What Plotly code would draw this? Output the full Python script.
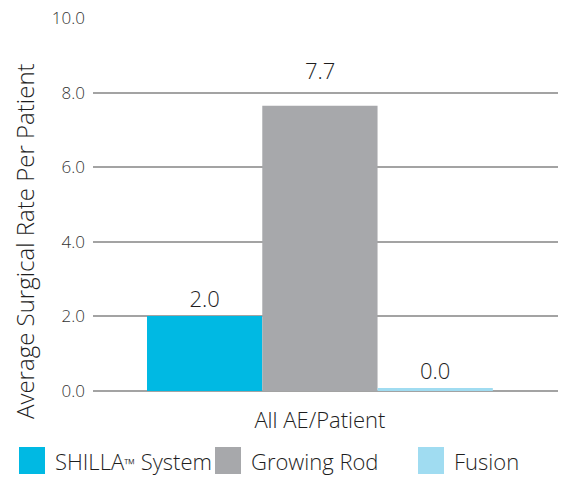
import plotly.graph_objects as go

categories = ["All AE/Patient"]
series_names = ["SHILLA<span style='font-size:15px'>™</span> System", "Growing Rod", "Fusion"]
series_values = [2.01, 7.65, 0.08]
value_labels = ["2.0", "7.7", "0.0"]
colors = ["#00B9E3", "#A7A8AB", "#A0DCF1"]
y_ticks = [0, 2, 4, 6, 8, 10]
y_ticklabels = ["0.0", "2.0", "4.0", "6.0", "8.0", "10.0"]
y_title = "Average Surgical Rate Per Patient"

W, H = 565, 477
L, R, T, B = 93, 7, 18, 86
pw, ph = W - L - R, H - T - B

FONT = "Open Sans"
TXT = "#1e1e1e"

fig = go.Figure()
for i, (name, v, lab, c) in enumerate(zip(series_names, series_values, value_labels, colors)):
    middle = (i == 1)
    fig.add_trace(go.Bar(
        x=categories, y=[v], name=name, marker_color=c, marker_line_width=0,
        text=[lab], textposition="none" if middle else "outside", cliponaxis=False,
        textfont=dict(size=22, color=TXT, family=FONT, weight=300),
        showlegend=False,
    ))

def px2x(px):
    return (px - L) / pw

def px2y(py):
    return (H - B - py) / ph

shapes = []
annotations = []
# label of the middle bar sits above the 8.0 gridline
annotations.append(dict(text=value_labels[1], x=categories[0], y=series_values[1],
                        xref="x", yref="y", xanchor="center", yanchor="bottom",
                        yshift=19, showarrow=False,
                        font=dict(size=22, color=TXT, family=FONT, weight=300)))

legend_x = [19, 215, 418]
for i, (name, c) in enumerate(zip(series_names, colors)):
    x0 = legend_x[i]
    shapes.append(dict(type="rect", xref="paper", yref="paper",
                       x0=px2x(x0), x1=px2x(x0 + 26), y0=px2y(474), y1=px2y(447),
                       fillcolor=c, line_width=0))
    annotations.append(dict(text=name, xref="paper", yref="paper",
                            x=px2x(x0 + 34), y=px2y(461), xanchor="left", yanchor="middle",
                            showarrow=False,
                            font=dict(size=22, color=TXT, family=FONT, weight=300)))

annotations.append(dict(text=y_title, xref="paper", yref="paper",
                        x=px2x(25), y=px2y(241), xanchor="center", yanchor="middle",
                        textangle=-90, showarrow=False,
                        font=dict(size=24, color=TXT, family=FONT, weight=300)))

fig.update_layout(
    width=W, height=H,
    margin=dict(l=L, r=R, t=T, b=B, pad=0),
    paper_bgcolor="white", plot_bgcolor="white",
    barmode="group", bargap=0.238, bargroupgap=0,
    font=dict(family=FONT, color=TXT),
    xaxis=dict(range=[-0.5, 0.5246], showgrid=False, showline=False, zeroline=False,
               ticks="", ticklabelstandoff=14,
               tickfont=dict(size=22, color=TXT, family=FONT, weight=300)),
    yaxis=dict(range=[0, 10], tickvals=y_ticks, ticktext=y_ticklabels,
               showgrid=True, gridcolor="#a3a3a3", gridwidth=2,
               zeroline=True, zerolinecolor="#a3a3a3", zerolinewidth=2,
               showline=False, ticks="", ticklabelstandoff=7,
               tickfont=dict(size=17, color="#333333", family=FONT, weight=300)),
    shapes=shapes, annotations=annotations,
)

fig.write_html("out.html")
